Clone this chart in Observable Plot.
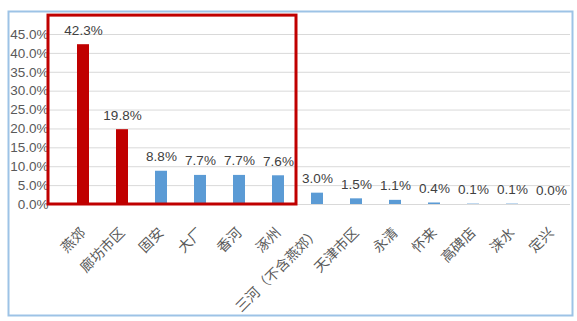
<!DOCTYPE html>
<html>
<head>
<meta charset="utf-8">
<script src="https://cdn.jsdelivr.net/npm/d3@7"></script>
<script src="https://cdn.jsdelivr.net/npm/@observablehq/plot@0.6"></script>
<style>
  html, body { margin: 0; padding: 0; background: #fff; }
  #chart { position: relative; width: 577px; height: 321px; }
  #chart svg { display: block; }
  [aria-label^="y-axis"] text { font-family: "Liberation Sans", Arial, sans-serif; font-size: 13.5px; fill: #595959; }
</style>
</head>
<body>
<div id="chart"></div>
<script>
const categories = ["燕郊","廊坊市区","固安","大厂","香河","涿州","三河（不含燕郊）","天津市区","永清","怀来","高碑店","涞水","定兴"];
const values = [42.3, 19.8, 8.8, 7.7, 7.7, 7.6, 3.0, 1.5, 1.1, 0.4, 0.1, 0.1, 0.0];
const redCategories = ["燕郊","廊坊市区"];
const boxedCategories = ["燕郊","廊坊市区","固安","大厂","香河","涿州"];
const yTicks = [0, 5, 10, 15, 20, 25, 30, 35, 40, 45];

const data = categories.map((c, i) => ({category: c, value: values[i]}));
const fmt = d => d.toFixed(1) + "%";

const plot = Plot.plot({
  width: 577,
  height: 321,
  marginLeft: 48,
  marginRight: 7,
  marginTop: 34,
  marginBottom: 117,
  style: {fontFamily: "'Liberation Sans', Arial, sans-serif", fontSize: "13px", color: "#595959", background: "#fff"},
  x: {domain: categories, range: [63.5, 571.5], paddingInner: 0.69, paddingOuter: 0.345, axis: null},
  y: {domain: [0, 45], ticks: yTicks, tickFormat: fmt, tickSize: 0, tickPadding: 0, label: null},
  marks: [
    Plot.ruleY(yTicks, {stroke: "#d9d9d9", strokeWidth: 1}),
    Plot.barY(data, {x: "category", y: "value", fill: d => redCategories.includes(d.category) ? "#C00000" : "#5B9BD5"}),
    Plot.text(data, {x: "category", y: "value", text: d => fmt(d.value), dy: -10, lineAnchor: "bottom", fill: "#404040", fontSize: 13.5}),
    Plot.text(categories, {x: d => d, text: d => d, frameAnchor: "bottom", rotate: -45, textAnchor: "end", lineAnchor: "middle", dx: 0, dy: 26, fill: "#595959", fontSize: 14, fontFamily: "'Noto Sans CJK SC', sans-serif"})
  ]
});
document.getElementById("chart").appendChild(plot);

// Highlight box around the boxed categories, derived from the scales
const xs = plot.scale("x");
const ys = plot.scale("y");
const svg = d3.select(plot);
const lastBoxed = boxedCategories[boxedCategories.length - 1];
const boxLeft = 48;
const boxRight = xs.apply(lastBoxed) + xs.bandwidth / 2 + xs.step / 2 - 1.5;
const boxTop = ys.apply(50);
const boxBottom = ys.apply(0);
svg.append("rect")
  .attr("x", boxLeft).attr("y", boxTop)
  .attr("width", boxRight - boxLeft).attr("height", boxBottom - boxTop)
  .attr("fill", "none").attr("stroke", "#C00000").attr("stroke-width", 3);

// Outer chart-area border
svg.append("rect")
  .attr("x", 8.5).attr("y", 11.5).attr("width", 564).attr("height", 304)
  .attr("fill", "none").attr("stroke", "#9DC3E6").attr("stroke-width", 2);
</script>
</body>
</html>
